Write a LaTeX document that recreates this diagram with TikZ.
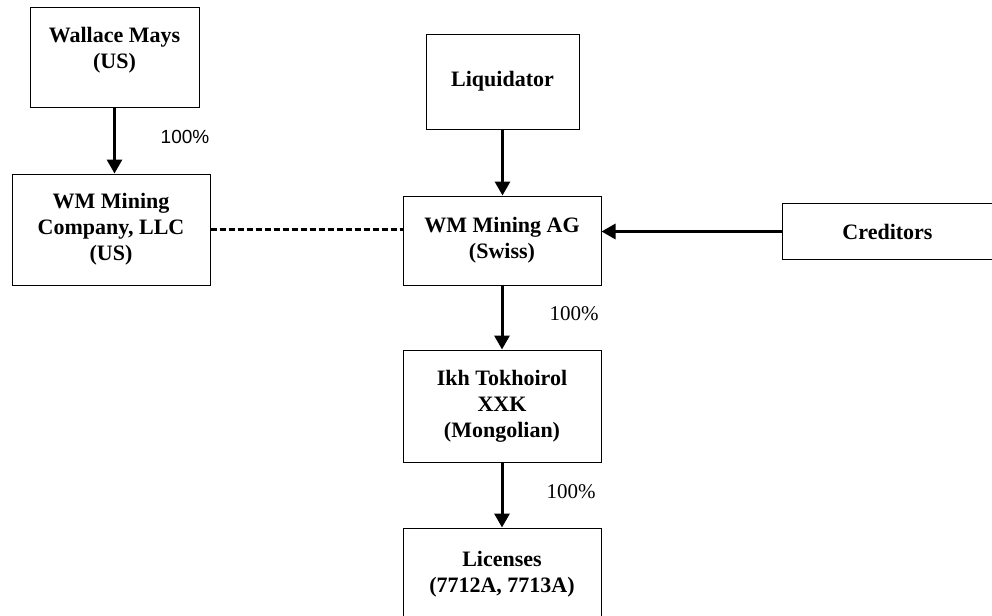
\documentclass[tikz,border=0pt]{standalone}
\usepackage{fontspec}
\setmainfont{Liberation Serif}
\newfontfamily\arialfont{Liberation Sans}
\usetikzlibrary{arrows.meta}
\begin{document}
\begin{tikzpicture}[x=0.5pt, y=-0.5pt,
				entity/.style = {shape=rectangle, draw, line width=0.5pt,
					align=center, font=\fontsize{11}{13}\selectfont\bfseries,
					inner sep=0pt},
				owns/.style = {line width=1.5pt, -{Triangle[length=7pt, width=7.5pt]}},
				share/.style = {font=\fontsize{10.5}{12}\selectfont}]

				\useasboundingbox (0,0) rectangle (992,616);

				\node[entity, minimum width=84.5pt, minimum height=50pt, text depth=9pt] (wallace) at (114.5,57) {Wallace Mays\\(US)};
				\node[entity, minimum width=99pt, minimum height=55.5pt] (wmco) at (111,229.5) {WM Mining\\Company, LLC\\(US)};
				\node[entity, minimum width=76.5pt, minimum height=47.5pt] (liquidator) at (502.5,81.5) {Liquidator};
				\node[entity, minimum width=99pt, minimum height=44.5pt] (wmag) at (502,240.5) {WM Mining AG\\(Swiss)};
				\node[entity, minimum width=105.5pt, minimum height=28pt] (creditors) at (887.5,231.5) {Creditors};
				\node[entity, minimum width=99pt, minimum height=56pt] (ikh) at (502,406) {Ikh Tokhoirol\\XXK\\(Mongolian)};
				\node[entity, minimum width=99pt, minimum height=46pt] (licenses) at (502,574) {Licenses\\(7712A, 7713A)};

				\draw[owns] (wallace.south) to (wallace.south |- wmco.north);
				\draw[owns] (liquidator.south) to (liquidator.south |- wmag.north);
				\draw[owns] (creditors.west) to (creditors.west -| wmag.east);
				\draw[owns] (wmag.south) to (ikh.north);
				\draw[owns] (ikh.south) to (licenses.north);
				\draw[line width=1.3pt, dash pattern=on 3pt off 1.5pt] (wmco.east) to (wmco.east -| wmag.west);

				\node[share, font=\arialfont\fontsize{9.5}{11}\selectfont] (pctwm) at (185,137) {100\%};
				\node[share] (pctag) at (574,314) {100\%};
				\node[share] (pctikh) at (571,492) {100\%};
			\end{tikzpicture}
\end{document}
